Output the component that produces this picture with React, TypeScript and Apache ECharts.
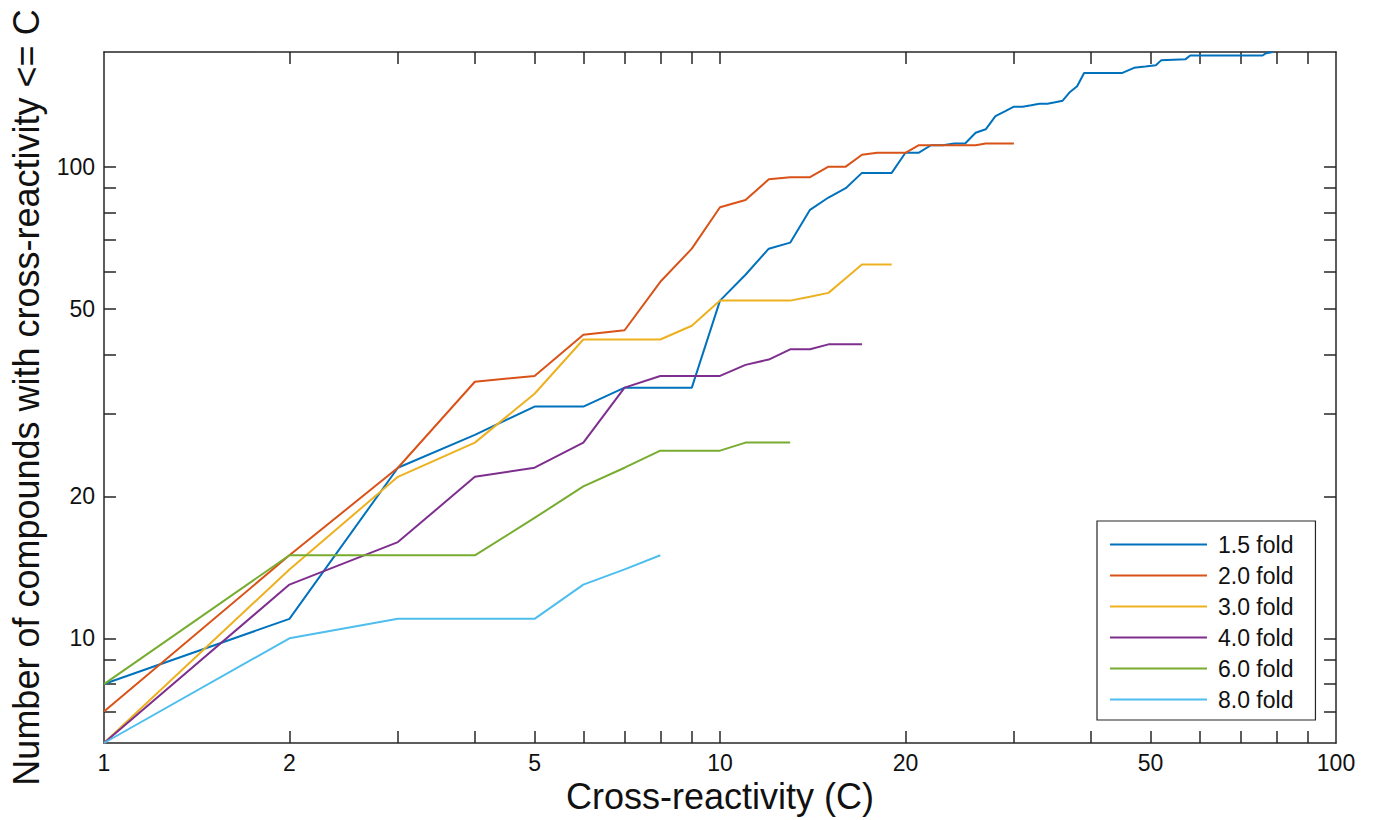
import React, { useEffect, useRef } from "react";
import * as echarts from "echarts";

const seriesNames = ["1.5 fold", "2.0 fold", "3.0 fold", "4.0 fold", "6.0 fold", "8.0 fold"];
const seriesColors = ["#0072BD", "#D95319", "#EDB120", "#7E2F8E", "#77AC30", "#4DBEEE"];

const c15 = [1, 2, 3, 4, 5, 6, 7, 8, 9, 10, 11, 12, 13, 14, 15, 16, 17, 18, 19, 20, 21, 22, 23, 24, 25, 26, 27, 28, 29, 30, 31, 32, 33, 34, 35, 36, 37, 38, 39, 45, 47, 49, 51, 52, 57, 58, 76, 77, 79];
const n15 = [8, 11, 23, 27, 31, 31, 34, 34, 34, 52, 59, 67, 69, 81, 86, 90, 97, 97, 97, 107, 107, 111, 111, 112, 112, 118, 120, 128, 131, 134, 134, 135, 136, 136, 137, 138, 144, 148, 158, 158, 162, 163, 164, 168, 169, 172, 172, 174, 175];

const c20 = [1, 2, 3, 4, 5, 6, 7, 8, 9, 10, 11, 12, 13, 14, 15, 16, 17, 18, 19, 20, 21, 26, 27, 30];
const n20 = [7, 15, 23, 35, 36, 44, 45, 57, 67, 82, 85, 94, 95, 95, 100, 100, 106, 107, 107, 107, 111, 111, 112, 112];

const c30 = [1, 2, 3, 4, 5, 6, 7, 8, 9, 10, 11, 12, 13, 14, 15, 16, 17, 18, 19];
const n30 = [6, 14, 22, 26, 33, 43, 43, 43, 46, 52, 52, 52, 52, 53, 54, 58, 62, 62, 62];

const c40 = [1, 2, 3, 4, 5, 6, 7, 8, 9, 10, 11, 12, 13, 14, 15, 16, 17];
const n40 = [6, 13, 16, 22, 23, 26, 34, 36, 36, 36, 38, 39, 41, 41, 42, 42, 42];

const c60 = [1, 2, 3, 4, 5, 6, 7, 8, 9, 10, 11, 12, 13];
const n60 = [8, 15, 15, 15, 18, 21, 23, 25, 25, 25, 26, 26, 26];

const c80 = [1, 2, 3, 4, 5, 6, 7, 8];
const n80 = [6, 10, 11, 11, 11, 13, 14, 15];

const allC = [c15, c20, c30, c40, c60, c80];
const allN = [n15, n20, n30, n40, n60, n80];

const xTickValues = [2, 3, 4, 5, 6, 7, 8, 9, 10, 20, 30, 40, 50, 60, 70, 80, 90];
const xLabelValues = [1, 2, 5, 10, 20, 50, 100];
const yTickValues = [7, 8, 9, 10, 20, 30, 40, 50, 60, 70, 80, 90, 100];
const yLabelValues = [10, 20, 50, 100];

const xMin = 1;
const xMax = 100;
const yMin = 6;
const yMax = 175;

const FONT = "'Liberation Sans', Arial, Helvetica, sans-serif";
const AXIS_COLOR = "#262626";

export default function App() {
  const ref = useRef<HTMLDivElement>(null);

  useEffect(() => {
    if (!ref.current) return;
    const chart = echarts.init(ref.current, undefined, { renderer: "svg" });

    const lineStyle = { color: AXIS_COLOR, width: 1.5 };
    const tickBase = { show: true, inside: true, length: 12, lineStyle: { color: AXIS_COLOR, width: 1.5 } };

    const option: any = {
      animation: false,
      backgroundColor: "#ffffff",
      grid: { left: 104, right: 38, top: 52, bottom: 77, containLabel: false },
      legend: {
        orient: "vertical",
        left: 1097,
        top: 521,
        data: seriesNames.map((name) => ({ name, icon: "rect" })),
        backgroundColor: "#ffffff",
        borderColor: AXIS_COLOR,
        borderWidth: 1.2,
        borderRadius: 0,
        padding: [12, 22, 9, 13],
        itemWidth: 97,
        itemHeight: 2,
        itemGap: 8,
        selectedMode: false,
        textStyle: { fontFamily: FONT, fontSize: 23, color: "#111", padding: [0, 0, 0, 6] },
      },
      xAxis: [
        {
          type: "log",
          logBase: 10,
          min: xMin,
          max: xMax,
          position: "bottom",
          name: "Cross-reactivity (C)",
          nameLocation: "middle",
          nameGap: 32,
          nameTextStyle: { fontFamily: FONT, fontSize: 36, color: "#111" },
          axisLine: { show: true, lineStyle },
          axisTick: { ...tickBase, customValues: xTickValues },
          minorTick: { show: false },
          splitLine: { show: false },
          axisLabel: {
            customValues: xLabelValues,
            fontFamily: FONT,
            fontSize: 23,
            color: "#111",
            margin: 8,
            formatter: (v: number) => String(Math.round(v)),
          },
        },
        {
          type: "log",
          logBase: 10,
          min: xMin,
          max: xMax,
          position: "top",
          axisLine: { show: true, lineStyle },
          axisTick: { ...tickBase, customValues: xTickValues },
          minorTick: { show: false },
          splitLine: { show: false },
          axisLabel: { show: false },
        },
      ],
      yAxis: [
        {
          type: "log",
          logBase: 10,
          min: yMin,
          max: yMax,
          position: "left",
          name: "Number of compounds with cross-reactivity <= C",
          nameLocation: "middle",
          nameGap: 60,
          nameTextStyle: { fontFamily: FONT, fontSize: 36, color: "#111" },
          axisLine: { show: true, lineStyle },
          axisTick: { ...tickBase, customValues: yTickValues },
          minorTick: { show: false },
          splitLine: { show: false },
          axisLabel: {
            customValues: yLabelValues,
            fontFamily: FONT,
            fontSize: 23,
            color: "#111",
            margin: 9,
            formatter: (v: number) => String(Math.round(v)),
          },
        },
        {
          type: "log",
          logBase: 10,
          min: yMin,
          max: yMax,
          position: "right",
          axisLine: { show: true, lineStyle },
          axisTick: { ...tickBase, customValues: yTickValues },
          minorTick: { show: false },
          splitLine: { show: false },
          axisLabel: { show: false },
        },
      ],
      series: seriesNames.map((name, i) => ({
        name,
        type: "line",
        xAxisIndex: 0,
        yAxisIndex: 0,
        symbol: "none",
        showSymbol: false,
        color: seriesColors[i],
        lineStyle: { color: seriesColors[i], width: 2 },
        data: allC[i].map((c, j) => [c, allN[i][j]]),
        z: 3,
      })),
    };

    chart.setOption(option);
    return () => {
      chart.dispose();
    };
  }, []);

  return (
    <div
      ref={ref}
      style={{ position: "fixed", left: 0, top: 0, width: 1374, height: 820, background: "#fff" }}
    />
  );
}
